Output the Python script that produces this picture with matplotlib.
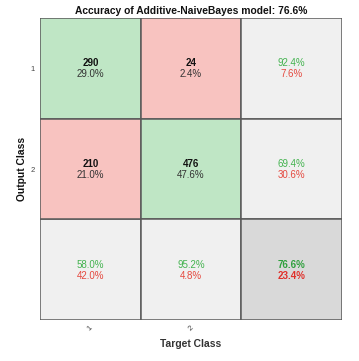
import matplotlib
matplotlib.use("Agg")
import matplotlib.pyplot as plt
from matplotlib.patches import Rectangle

plt.rcParams["font.family"] = ["Liberation Sans", "DejaVu Sans"]

classes = ["1", "2"]
counts = [[290, 24], [210, 476]]  # rows: output class, cols: target class
row_correct = ["92.4%", "69.4%"]
row_wrong = ["7.6%", "30.6%"]
col_correct = ["58.0%", "95.2%"]
col_wrong = ["42.0%", "4.8%"]
overall_correct = "76.6%"
overall_wrong = "23.4%"
title = "Accuracy of Additive-NaiveBayes model: 76.6%"

total = sum(sum(r) for r in counts)

GREEN_BG = "#bfe6c5"
RED_BG = "#f8c3c0"
GRAY_BG = "#f0f0f0"
DARK_BG = "#d9d9d9"
GREEN_TX = "#43b34f"
RED_TX = "#e5493f"
EDGE = "#5a5a5a"

fig = plt.figure(figsize=(3.59, 3.61), dpi=100)
ax = fig.add_axes([0.1114, 0.1136, 0.8412, 0.8364])
n = len(classes)
ax.set_xlim(0, n + 1)
ax.set_ylim(n + 1, 0)

fs = 7.0
for i in range(n):
    for j in range(n):
        c = GREEN_BG if i == j else RED_BG
        ax.add_patch(Rectangle((j, i), 1, 1, facecolor=c, edgecolor=EDGE, lw=1.1))
        ax.text(j + 0.5, i + 0.45, str(counts[i][j]), ha="center", va="center",
                fontsize=fs, fontweight="bold", color="#111111")
        ax.text(j + 0.5, i + 0.56, f"{100 * counts[i][j] / total:.1f}%", ha="center",
                va="center", fontsize=fs, color="#333333")
    # row summary
    ax.add_patch(Rectangle((n, i), 1, 1, facecolor=GRAY_BG, edgecolor=EDGE, lw=1.1))
    ax.text(n + 0.5, i + 0.45, row_correct[i], ha="center", va="center", fontsize=fs, color=GREEN_TX)
    ax.text(n + 0.5, i + 0.56, row_wrong[i], ha="center", va="center", fontsize=fs, color=RED_TX)
    # column summary
    ax.add_patch(Rectangle((i, n), 1, 1, facecolor=GRAY_BG, edgecolor=EDGE, lw=1.1))
    ax.text(i + 0.5, n + 0.45, col_correct[i], ha="center", va="center", fontsize=fs, color=GREEN_TX)
    ax.text(i + 0.5, n + 0.56, col_wrong[i], ha="center", va="center", fontsize=fs, color=RED_TX)

ax.add_patch(Rectangle((n, n), 1, 1, facecolor=DARK_BG, edgecolor=EDGE, lw=1.1))
ax.text(n + 0.5, n + 0.45, overall_correct, ha="center", va="center", fontsize=fs,
        fontweight="bold", color="#2ea03c")
ax.text(n + 0.5, n + 0.56, overall_wrong, ha="center", va="center", fontsize=fs,
        fontweight="bold", color="#e0302a")

for s in ax.spines.values():
    s.set_visible(False)

ax.set_xticks([k + 0.5 for k in range(n)])
ax.set_xticklabels(classes, rotation=45, fontsize=5.5, color="#444444")
ax.set_yticks([k + 0.5 for k in range(n)])
ax.set_yticklabels(classes, fontsize=5.5, color="#444444")
ax.tick_params(axis="x", length=0, pad=3)
ax.tick_params(axis="y", length=0, pad=4)
ax.set_xlabel("Target Class", fontsize=7.4, fontweight="bold", color="#333333", labelpad=5)
ax.set_ylabel("Output Class", fontsize=7.4, fontweight="bold", color="#111111", labelpad=2)
ax.set_title(title, fontsize=7.4, fontweight="bold", color="#111111", pad=3)

fig.savefig("out.png", dpi=100)
